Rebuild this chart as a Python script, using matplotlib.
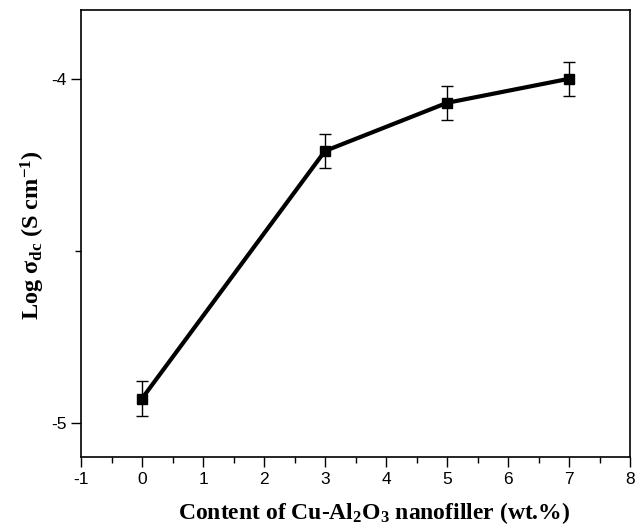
import matplotlib
matplotlib.use("Agg")
import matplotlib.pyplot as plt
from matplotlib.ticker import MultipleLocator

plt.rcParams['mathtext.fontset'] = 'custom'
plt.rcParams['mathtext.rm'] = 'Liberation Serif:bold'
plt.rcParams['mathtext.bf'] = 'Liberation Serif:bold'
plt.rcParams['mathtext.it'] = 'Liberation Serif:bold'
plt.rcParams['mathtext.sf'] = 'Liberation Serif:bold'

content = [0, 3, 5, 7]
log_sigma = [-4.93, -4.21, -4.07, -4.00]
err = [0.05, 0.05, 0.05, 0.05]
xticks = list(range(-1, 9))
yticks = [-4, -5]

fig = plt.figure(figsize=(6.44, 5.28), dpi=100)
ax = fig.add_axes([81/644, 1-457/528, (630-81)/644, (457-10)/528])

ax.errorbar(content, log_sigma, yerr=err, color='black', lw=3, marker='s', ms=7.5,
            ecolor='black', elinewidth=1, capsize=4, capthick=1)

ax.set_xlim(-1, 8)
ax.set_ylim(-5.10, -3.80)
ax.xaxis.set_minor_locator(MultipleLocator(0.5))
ax.yaxis.set_minor_locator(MultipleLocator(0.5))
ax.tick_params(which='major', direction='out', length=7, width=1,
               top=False, right=False)
ax.tick_params(which='minor', direction='out', length=4, width=1, top=False, right=False)
ax.set_yticks(yticks)
ax.set_yticklabels([str(v) for v in yticks], fontfamily='Liberation Sans', fontsize=12.5)
ax.set_xticks(xticks)
ax.set_xticklabels([str(i) for i in xticks], fontfamily='Liberation Sans', fontsize=12.5)
for s in ax.spines.values():
    s.set_linewidth(1.2)

ax.set_xlabel(r'Content of Cu-Al$_{2}$O$_{3}$ nanofiller (wt.%)',
              fontfamily='Liberation Serif', fontweight='bold', fontsize=17)
ax.set_ylabel(r'Log $\sigma_{dc}$ (S cm$^{-1}$)',
              fontfamily='Liberation Serif', fontweight='bold', fontsize=17.5)
ax.xaxis.set_label_coords((374-81)/549, (457-500)/447)
ax.yaxis.set_label_coords((47-81)/549, 0.497)

fig.savefig('out.png', dpi=100)
